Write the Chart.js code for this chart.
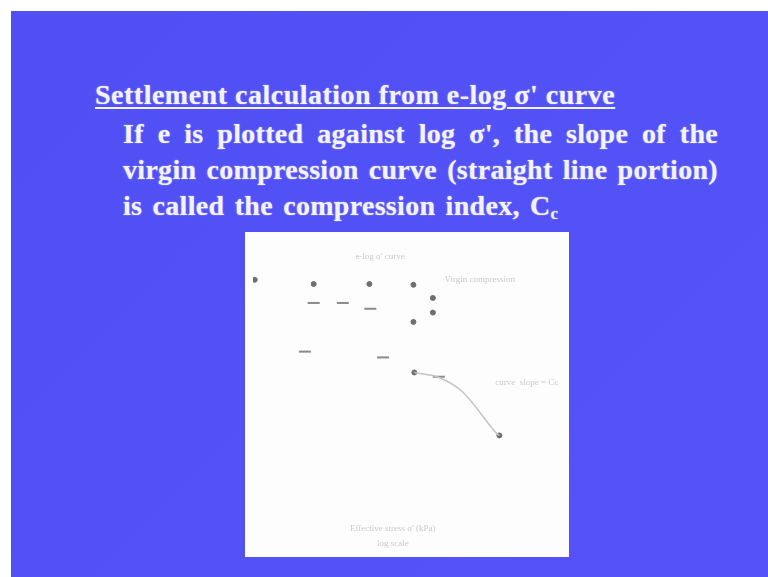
<!DOCTYPE html>
<html>
<head>
<meta charset="utf-8">
<script src="https://cdn.jsdelivr.net/npm/chart.js@4/dist/chart.umd.min.js"></script>
<style>
  html, body { margin: 0; padding: 0; width: 768px; height: 577px; background: #ffffff; overflow: hidden; }
  #slide {
    position: absolute; left: 11px; top: 11px; width: 757px; height: 566px;
    background: linear-gradient(135deg, #4f4ff4 0%, #5252f6 60%, #5652fa 100%);
  }
  .txt {
    position: absolute; color: #f3f2ff; font-family: "Liberation Serif", "DejaVu Serif", serif;
    font-weight: bold; white-space: nowrap; text-shadow: 0 0 1.5px rgba(230,230,255,0.7);
  }
  #title { left: 84px; top: 69px; font-size: 28px; line-height: 30px; letter-spacing: 0.5px; text-decoration: underline; text-decoration-thickness: 2px; text-underline-offset: 3px; }
  #body { left: 112px; top: 105px; font-size: 28px; line-height: 36px; letter-spacing: 0.3px; }
  #body .line { width: 595px; }
  #body .fit { text-align: justify; text-align-last: justify; white-space: normal; }
  #body .last { word-spacing: 3px; }
  sub { font-size: 60%; vertical-align: -4px; }
  #box { position: absolute; left: 234px; top: 221px; width: 324px; height: 325px; background: #fdfdfd; }
  #box canvas { filter: blur(0.5px); }
</style>
</head>
<body>
<div id="slide">
  <div id="title" class="txt">Settlement calculation from e-log σ' curve</div>
  <div id="body" class="txt">
    <div class="line fit">If e is plotted against log σ', the slope of the</div>
    <div class="line fit">virgin compression curve (straight line portion)</div>
    <div class="line last">is called the compression index, C<sub>c</sub></div>
  </div>
  <div id="box"><canvas id="chart" width="324" height="325"></canvas></div>
</div>
<script>
// Oedometer readings: effective stress σ' (kPa) and void ratio e
const testStress = [1.04, 3.9, 13.6, 36.5, 56.5, 56.5, 36.5, 37.3, 251];
const testVoid   = [1.097, 1.086, 1.086, 1.084, 1.050, 1.012, 0.988, 0.857, 0.694];

// Load-step marks
const markStress = [3.9, 7.5, 13.9, 3.2, 18.5, 64.6];
const markVoid   = [1.037, 1.037, 1.022, 0.911, 0.896, 0.846];

// Virgin compression branch
const virginStress = [37.3, 64.8, 111.6, 230, 251];
const virginVoid   = [0.857, 0.844, 0.805, 0.702, 0.694];

// Labels placed inside the plot, anchored at (σ', e)
const noteText   = ["e-log σ' curve", "Virgin compression", "curve  slope = Cc",
                    "Effective stress σ' (kPa)", "log scale"];
const noteStress = [17.3, 162, 464, 23, 23];
const noteVoid   = [1.156, 1.097, 0.831, 0.452, 0.413];

const zip = (xs, ys) => xs.map((x, i) => ({ x: x, y: ys[i] }));

const notes = {
  id: 'notes',
  afterDatasetsDraw(chart) {
    const { ctx, scales } = chart;
    ctx.save();
    ctx.fillStyle = '#c9c9c9';
    ctx.font = '9px "Liberation Serif", serif';
    ctx.textAlign = 'center';
    ctx.textBaseline = 'middle';
    noteText.forEach((t, i) => {
      ctx.fillText(t, scales.x.getPixelForValue(noteStress[i]), scales.y.getPixelForValue(noteVoid[i]));
    });
    ctx.restore();
  }
};

new Chart(document.getElementById('chart'), {
  type: 'scatter',
  data: {
    datasets: [
      {
        label: 'Virgin compression',
        data: zip(virginStress, virginVoid),
        showLine: true, borderColor: '#c4c4c4', borderWidth: 1.5,
        pointRadius: 0, tension: 0.3
      },
      {
        label: 'Test points',
        data: zip(testStress, testVoid),
        pointRadius: 2.5, pointBackgroundColor: '#6f6f6f', pointBorderColor: '#6f6f6f'
      },
      {
        label: 'Marks',
        data: zip(markStress, markVoid),
        pointStyle: 'line', pointRadius: 6, borderColor: '#8a8a8a', pointBorderWidth: 2
      }
    ]
  },
  options: {
    responsive: false, animation: false, events: [],
    layout: { padding: { left: 5, top: 8, right: 4, bottom: 7 } },
    plugins: { legend: { display: false }, tooltip: { enabled: false } },
    scales: {
      x: { type: 'logarithmic', min: 1, max: 1000, display: false },
      y: { min: 0.4, max: 1.2, display: false }
    }
  },
  plugins: [notes]
});
</script>
</body>
</html>
